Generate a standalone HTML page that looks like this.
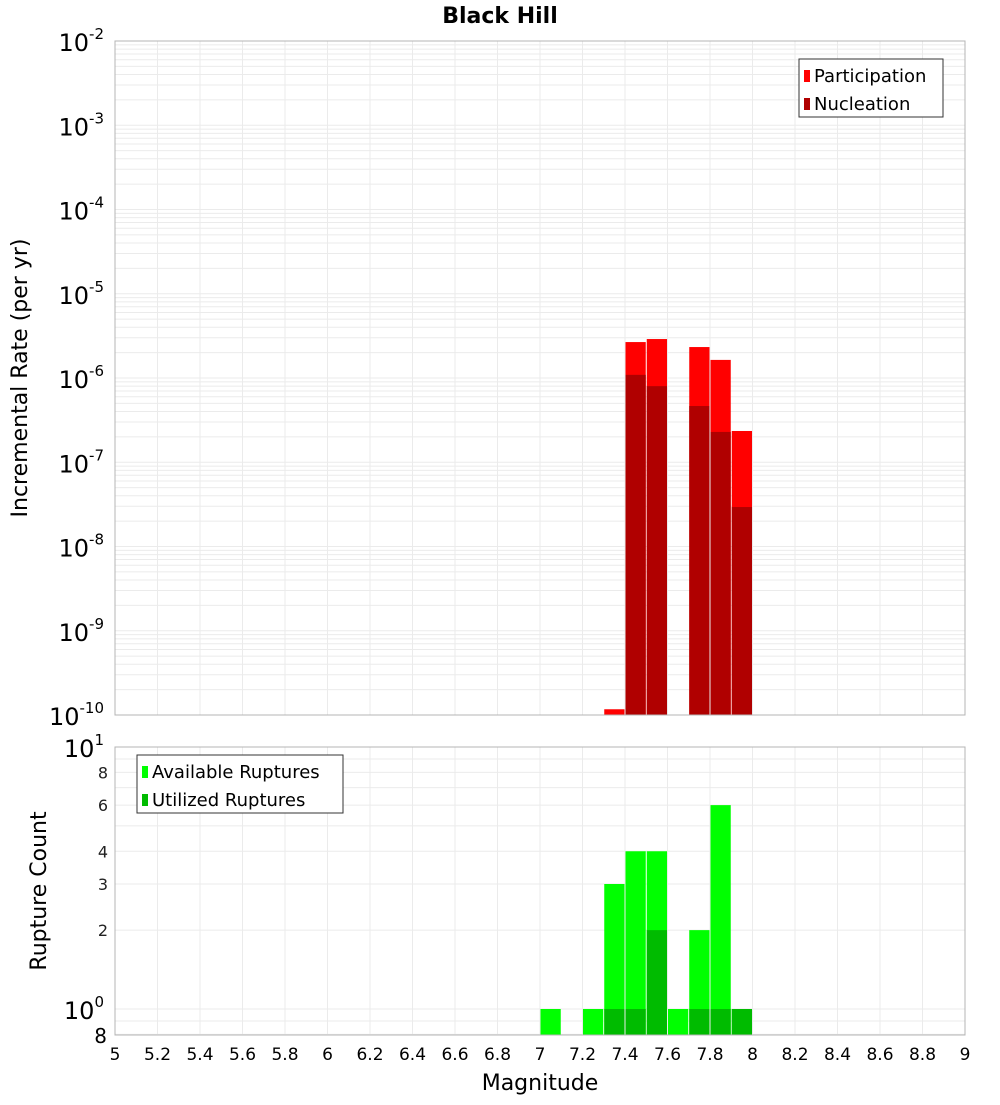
<!DOCTYPE html>
<html><head><meta charset="utf-8"><style>
body{margin:0;background:#fff;}
text{font-family:"DejaVu Sans","Liberation Sans",sans-serif;}
</style></head><body>
<svg id="c" width="1000" height="1100" xmlns="http://www.w3.org/2000/svg"></svg>
<script>
const bins=[7.05,7.25,7.35,7.45,7.55,7.65,7.75,7.85,7.95];
const participation=[0,0,1.17e-10,2.67e-6,2.9e-6,0,2.33e-6,1.64e-6,2.35e-7];
const nucleation=[0,0,0,1.09e-6,8.0e-7,0,4.65e-7,2.29e-7,2.94e-8];
const available=[1,1,3,4,4,1,2,6,1];
const utilized=[0,0,1,1,2,0,1,1,1];
const xTicks=[5,5.2,5.4,5.6,5.8,6,6.2,6.4,6.6,6.8,7,7.2,7.4,7.6,7.8,8,8.2,8.4,8.6,8.8,9];
const topExps=[-2,-3,-4,-5,-6,-7,-8,-9,-10];
const botTicks=[8,6,4,3,2];

const svg=document.getElementById('c');const NS='http://www.w3.org/2000/svg';
function el(t,a,p){const e=document.createElementNS(NS,t);for(const k in a)e.setAttribute(k,a[k]);(p||svg).appendChild(e);return e;}
const X0=115,X1=965;const x=m=>X0+(m-5)/4*(X1-X0);
const T0=41,T1=715;const yT=v=>T0+(-2-Math.log10(v))/8*(T1-T0);
const B0=747,B1=1035;const yB=v=>1009-Math.log10(v)*262;

// grids
const g=el('g',{});
for(let m=5;m<=9.001;m+=0.2){el('line',{x1:x(m),x2:x(m),y1:T0,y2:T1,stroke:'#ebebeb'},g);el('line',{x1:x(m),x2:x(m),y1:B0,y2:B1,stroke:'#ebebeb'},g);}
for(let e=-10;e<-2;e++)for(let k=1;k<10;k++){const yy=yT(k*Math.pow(10,e));el('line',{x1:X0,x2:X1,y1:yy,y2:yy,stroke:'#ebebeb'},g);}
[0.8,0.9,1,2,3,4,5,6,7,8,9].forEach(v=>{const yy=yB(v);el('line',{x1:X0,x2:X1,y1:yy,y2:yy,stroke:'#ebebeb'},g);});

const w=(X1-X0)/40;
bins.forEach((b,i)=>{
 if(participation[i]>0){const r=el('rect',{x:x(b)-w/2+0.5,y:yT(participation[i]),width:w-1,height:T1-yT(participation[i]),fill:'#ff0000'});}
 if(nucleation[i]>0){const r=el('rect',{x:x(b)-w/2+0.5,y:yT(nucleation[i]),width:w-1,height:T1-yT(nucleation[i]),fill:'#b00000'});}
 if(available[i]>0){const r=el('rect',{x:x(b)-w/2+0.5,y:yB(available[i]),width:w-1,height:B1-yB(available[i]),fill:'#00ff00'});}
 if(utilized[i]>0){const r=el('rect',{x:x(b)-w/2+0.5,y:yB(utilized[i]),width:w-1,height:B1-yB(utilized[i]),fill:'#00bb00'});}
});
el('rect',{x:X0,y:T0,width:X1-X0,height:T1-T0,fill:'none',stroke:'#b4b4b4'});
el('rect',{x:X0,y:B0,width:X1-X0,height:B1-B0,fill:'none',stroke:'#b4b4b4'});

topExps.forEach(e=>{const t=el('text',{x:104,y:yT(Math.pow(10,e))+10,'font-size':24,'text-anchor':'end'});t.innerHTML='10<tspan dy="-12" font-size="15">'+e+'</tspan>';});
const t1=el('text',{x:104,y:757,'font-size':24,'text-anchor':'end'});t1.innerHTML='10<tspan dy="-12" font-size="15">1</tspan>';
const t0=el('text',{x:104,y:1019,'font-size':24,'text-anchor':'end'});t0.innerHTML='10<tspan dy="-12" font-size="15">0</tspan>';
const t8=el('text',{x:107,y:1043,'font-size':20,'text-anchor':'end'});t8.textContent='8';
botTicks.forEach(v=>{const t=el('text',{x:108,y:yB(v)+6,'font-size':16,'text-anchor':'end',fill:'#222'});t.textContent=v;});
xTicks.forEach(m=>{const t=el('text',{x:x(m),y:1060,'font-size':17,'text-anchor':'middle'});t.textContent=m;});

const tt=el('text',{x:500,y:23,'font-size':22,'font-weight':'bold','text-anchor':'middle'});tt.textContent='Black Hill';
const xl=el('text',{x:540,y:1090,'font-size':22,'text-anchor':'middle'});xl.textContent='Magnitude';
const yl=el('text',{x:0,y:0,'font-size':22,'text-anchor':'middle',transform:'translate(27,378) rotate(-90)'});yl.textContent='Incremental Rate (per yr)';
const yl2=el('text',{x:0,y:0,'font-size':22,'text-anchor':'middle',transform:'translate(46,891) rotate(-90)'});yl2.textContent='Rupture Count';

function legend(lx,ly,lw,items,name){const lg=el('g',{});
 el('rect',{x:lx,y:ly,width:lw,height:58,fill:'#fff',stroke:'#333'},lg);
 items.forEach((it,i)=>{el('rect',{x:lx+5,y:ly+11+i*28,width:6,height:12,fill:it[1]},lg);const t=el('text',{x:lx+15,y:ly+23+i*28,'font-size':18},lg);t.textContent=it[0];});}
legend(799,59,144,[['Participation','#ff0000'],['Nucleation','#b00000']],'legend-top');
legend(137,755,206,[['Available Ruptures','#00ff00'],['Utilized Ruptures','#00bb00']],'legend-bottom');
</script>
</body></html>
